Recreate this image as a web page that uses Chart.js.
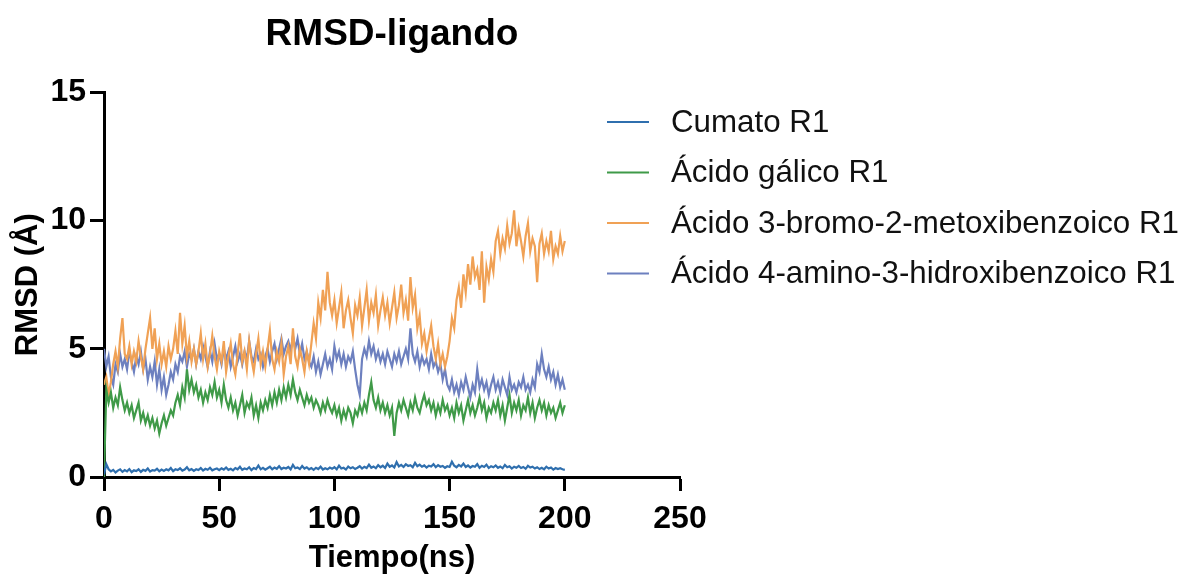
<!DOCTYPE html>
<html>
<head>
<meta charset="utf-8">
<script src="https://cdn.jsdelivr.net/npm/chart.js@4.4.1/dist/chart.umd.min.js"></script>
<style>
    html, body { margin: 0; padding: 0; background: #ffffff; }
</style>
</head>
<body>
<canvas id="rmsd-canvas" width="1180" height="577"></canvas>
<script>
// sampling interval of the trajectories (ns)
const timeStep = 1;

const seriesLabels = [
    'Cumato R1',
    'Ácido gálico R1',
    'Ácido 3-bromo-2-metoxibenzoico R1',
    'Ácido 4-amino-3-hidroxibenzoico R1'
];
const seriesColors = ['#2f6fae', '#3f9a48', '#f0a155', '#6d80bf'];

const xTicks = [0, 50, 100, 150, 200, 250];
const yTicks = [0, 5, 10, 15];

// RMSD (Å), one value per ns
const cumato = [
    0.1, 0.5, 0.3, 0.22, 0.28, 0.18, 0.25, 0.3, 0.2, 0.27,
    0.22, 0.31, 0.19, 0.26, 0.23, 0.3, 0.2, 0.28, 0.24, 0.33,
    0.21, 0.27, 0.25, 0.32, 0.22, 0.29, 0.24, 0.3, 0.26, 0.35,
    0.23, 0.3, 0.27, 0.34, 0.25, 0.29, 0.38, 0.26, 0.31, 0.24,
    0.3, 0.27, 0.35, 0.25, 0.32, 0.28, 0.36, 0.26, 0.3, 0.33,
    0.27, 0.34, 0.29, 0.37, 0.28, 0.32, 0.26, 0.35, 0.3, 0.4,
    0.28, 0.33, 0.3, 0.38, 0.27, 0.35, 0.31, 0.45, 0.3, 0.36,
    0.29, 0.34, 0.4, 0.3, 0.37, 0.32, 0.42, 0.31, 0.36, 0.33,
    0.39, 0.3, 0.47, 0.34, 0.37, 0.31, 0.43, 0.33, 0.38, 0.3,
    0.35, 0.28, 0.36, 0.31, 0.4, 0.29, 0.34, 0.3, 0.37, 0.32,
    0.38, 0.3, 0.44, 0.33, 0.36, 0.29, 0.41, 0.34, 0.38, 0.31,
    0.36, 0.42, 0.33, 0.4, 0.35, 0.48, 0.36, 0.41, 0.34, 0.46,
    0.38, 0.44, 0.35, 0.52, 0.4, 0.45, 0.37, 0.58, 0.41, 0.47,
    0.39, 0.5, 0.43, 0.46, 0.38, 0.55, 0.42, 0.48, 0.4, 0.45,
    0.37, 0.44, 0.41, 0.5, 0.38, 0.46, 0.4, 0.43, 0.36, 0.42,
    0.39, 0.6, 0.44, 0.38, 0.47, 0.41, 0.52, 0.39, 0.45, 0.37,
    0.43, 0.4, 0.5, 0.36, 0.44, 0.39, 0.48, 0.35, 0.42, 0.38,
    0.45, 0.36, 0.41, 0.34, 0.47, 0.38, 0.42, 0.33, 0.4, 0.36,
    0.43, 0.35, 0.39, 0.32, 0.44, 0.37, 0.4, 0.33, 0.38, 0.31,
    0.36, 0.3, 0.4, 0.33, 0.37, 0.29, 0.35, 0.31, 0.34, 0.3,
    0.28
];

const acidoGalico = [
    0.0, 3.4, 2.9, 3.3, 2.7, 3.1, 2.8, 3.5, 3.0, 2.6,
    2.9, 2.5, 2.8, 2.3, 2.6, 2.9, 2.2, 2.5, 2.1, 2.4,
    2.0, 2.3, 1.9, 2.2, 1.7, 2.1, 2.4, 2.0, 2.3, 2.6,
    2.4, 2.9, 3.2, 2.8, 3.5, 3.1, 4.2, 3.4, 3.8, 3.3,
    3.6, 3.1, 3.4, 2.9, 3.3, 3.0, 3.5, 3.2, 3.7, 3.1,
    3.4, 2.9, 3.6, 3.0, 2.7, 3.1, 2.6, 2.9, 2.4, 2.8,
    3.2, 2.5, 2.9, 2.7, 3.1, 2.4, 2.8, 2.3, 2.9, 2.6,
    3.0, 2.7, 3.2, 2.8, 3.3, 2.9, 3.4, 3.0, 3.5, 3.1,
    3.6, 3.2, 3.8, 3.3, 3.0, 3.4, 3.1, 2.8, 3.2, 2.9,
    3.1, 2.7, 3.0, 2.8, 2.5, 2.9, 2.6, 3.0, 2.7, 2.5,
    2.8, 2.4, 2.7, 2.2, 2.6, 2.3, 2.7, 2.5, 2.1, 2.6,
    2.4, 2.8, 2.5, 2.9, 2.6, 3.2, 3.7, 3.0, 2.7, 3.1,
    2.6, 2.9, 2.5, 2.8, 2.4, 2.7, 1.6, 2.5, 2.9, 2.6,
    3.0, 2.7, 2.4, 2.9, 2.6, 3.1, 2.7, 2.5, 2.9, 3.2,
    2.8, 3.0, 2.6, 2.9, 2.4, 2.8, 2.5, 3.0, 2.6, 2.8,
    2.4, 2.7, 2.3, 2.9, 2.5, 2.8, 2.2, 2.6, 3.0, 2.5,
    2.8, 2.4, 2.7, 3.1, 2.6, 2.9, 2.3, 2.7, 2.5, 2.9,
    2.6, 3.0, 2.4, 2.8, 2.2, 2.7, 3.2, 2.5, 2.9, 2.6,
    3.0, 2.4, 2.8, 2.6, 3.1, 2.5, 2.9, 2.3, 2.7, 3.0,
    2.6, 2.9, 2.4, 2.8, 2.5, 2.7, 2.3, 2.6, 2.9, 2.5,
    2.8
];

const acidoBromo = [
    3.6, 3.9, 3.2, 3.7, 4.4, 4.9, 4.3, 5.4, 6.2, 4.8,
    4.6, 5.1, 4.4, 4.9, 4.5, 5.3, 4.7, 4.2, 5.0, 5.6,
    6.2, 5.0, 5.8, 4.6, 5.2, 4.4, 4.9, 4.3, 5.1, 4.6,
    5.0, 5.7, 4.8, 6.4, 5.2, 5.9, 4.7, 5.3, 4.5, 5.0,
    4.4, 4.9, 5.6, 4.6, 5.2, 4.3, 4.8, 5.5, 4.7, 4.2,
    4.9, 4.5, 5.3, 4.1, 4.7, 5.2, 4.4, 4.0, 4.8, 5.6,
    4.5, 4.9, 4.2, 5.3, 4.6, 4.1, 4.8, 5.4, 4.4, 4.9,
    4.3, 5.0, 5.7, 4.6, 4.2, 4.9, 4.5, 5.2, 4.0, 4.7,
    5.1, 4.4, 5.8, 4.7, 4.3, 5.0, 4.6, 4.1, 4.9, 4.4,
    5.2, 6.0, 5.4, 6.8, 6.2, 7.3, 6.5, 8.0, 6.8, 6.3,
    6.9, 6.0, 6.6, 7.2, 5.8, 6.5, 6.9, 6.2, 5.6, 6.7,
    6.3, 7.0, 5.9, 6.6, 7.3, 6.1, 6.8, 6.4, 7.1, 5.9,
    6.5, 7.0, 6.3, 6.8, 6.0, 6.6, 7.2, 6.2, 6.7, 7.5,
    6.4, 6.9, 6.1, 7.8, 6.6, 7.1, 5.8, 6.3, 5.2, 5.6,
    4.9, 5.4, 5.9, 5.1, 4.6, 5.2, 4.4, 4.8, 4.3, 4.7,
    5.3, 6.2, 5.8, 6.9, 7.4, 6.6, 7.9, 7.2, 8.3, 7.5,
    8.6, 7.8, 8.1, 7.3, 8.8, 6.8, 8.2, 7.7, 8.5, 8.0,
    9.2, 9.6, 8.7, 9.3, 8.9, 9.8, 9.1, 9.5, 10.4, 9.0,
    9.7, 9.2, 8.6, 9.4, 9.9, 8.8, 9.3, 9.0, 7.6, 9.1,
    9.5, 8.7, 9.2, 8.8, 9.6, 8.5, 9.0, 8.7, 9.4, 8.8,
    9.2
];

const acidoAmino = [
    5.0, 4.3, 4.7, 3.9, 3.6, 4.4, 4.1, 4.8, 4.3, 4.6,
    4.2, 4.9, 4.5, 4.1, 4.7, 4.4, 4.9, 4.2, 4.6, 3.8,
    4.3, 3.9, 4.5, 3.6, 4.2, 3.4, 3.9, 3.2, 3.6, 4.1,
    3.8, 4.4, 4.1, 4.7, 4.5, 4.9, 4.3, 4.8, 4.6, 5.0,
    4.4, 4.9, 4.6, 5.1, 4.7, 4.3, 4.9, 4.5, 5.2, 4.6,
    4.8, 4.4, 5.0, 4.6, 4.9, 4.3, 4.7, 5.1, 4.5, 4.8,
    4.4, 4.9, 4.6, 5.3, 4.7, 4.5, 5.0, 4.6, 4.8, 4.3,
    4.7, 5.0, 4.5, 4.9, 5.2, 4.6, 5.0, 5.4, 4.8, 5.1,
    5.3, 4.9, 5.5, 5.0, 5.4, 4.8, 5.2, 4.6, 4.9, 4.5,
    4.3, 4.7, 4.1, 4.5, 4.0, 4.4, 4.8, 4.3, 4.6, 4.2,
    5.1, 4.6, 4.9, 4.4, 4.8, 4.3, 4.7, 4.5, 4.9, 4.2,
    3.6, 3.2, 4.6, 5.0, 4.7, 5.3, 4.8, 5.1, 4.6, 4.9,
    4.5, 4.8, 4.4, 4.9, 4.6, 4.3, 4.8, 4.5, 4.9, 4.4,
    4.7, 5.0, 4.6, 5.8, 4.8, 4.5, 4.9, 4.3, 4.7, 4.4,
    4.6, 4.2, 4.8, 4.3, 4.5, 4.1, 4.4, 3.8, 4.2, 3.6,
    3.4, 3.8, 3.3, 3.6, 3.2, 3.7, 3.4, 3.9, 3.5, 3.1,
    3.6, 3.3, 4.2, 3.5, 3.8, 3.4, 3.7, 3.2, 3.6, 3.9,
    3.4, 3.7, 3.3, 3.8, 3.5, 3.2, 3.9, 3.4, 3.6, 3.3,
    3.7, 3.5, 3.9, 3.4, 3.6, 3.3, 3.8, 3.5, 4.4, 4.1,
    4.8, 4.2, 3.9, 4.3, 3.8, 4.1, 3.6, 4.0, 3.5, 3.8,
    3.4
];

const seriesValues = [cumato, acidoGalico, acidoBromo, acidoAmino];

const fontFamily = '"Liberation Sans", Arial, Helvetica, sans-serif';

function toPoints(values) {
    return values.map((v, i) => ({ x: i * timeStep, y: v }));
}

// draws the legend to the right of the plot, like the original figure
const sideLegend = {
    id: 'sideLegend',
    afterDraw(chart) {
        const ctx = chart.ctx;
        ctx.save();
        ctx.font = '31.3px ' + fontFamily;
        ctx.textBaseline = 'middle';
        ctx.textAlign = 'left';
        chart.data.datasets.forEach((ds, i) => {
            const y = 122 + i * 50.5;
            ctx.strokeStyle = ds.borderColor;
            ctx.lineWidth = 2;
            ctx.beginPath();
            ctx.moveTo(607, y);
            ctx.lineTo(649, y);
            ctx.stroke();
            ctx.fillStyle = '#111111';
            ctx.fillText(ds.label, 671, y + 1);
        });
        ctx.restore();
    }
};

const datasets = seriesLabels.map((label, i) => ({
    label: label,
    data: toPoints(seriesValues[i]),
    borderColor: seriesColors[i],
    backgroundColor: seriesColors[i],
    borderWidth: 2.2,
    pointRadius: 0,
    tension: 0
}));

new Chart(document.getElementById('rmsd-canvas'), {
    type: 'line',
    data: { datasets: datasets },
    plugins: [sideLegend],
    options: {
        responsive: false,
        animation: false,
        layout: { padding: { left: 0, right: 500, top: 0, bottom: 0 } },
        plugins: {
            legend: { display: false },
            tooltip: { enabled: false },
            title: {
                display: true,
                text: 'RMSD-ligando',
                color: '#000000',
                fullSize: false,
                font: { family: fontFamily, size: 37, weight: 'bold' },
                padding: { top: 13, bottom: 35 }
            }
        },
        scales: {
            x: {
                type: 'linear',
                min: 0,
                max: 250,
                afterBuildTicks: (scale) => { scale.ticks = xTicks.map(v => ({ value: v })); },
                afterFit: (scale) => { scale.height = 100; },
                ticks: {
                    color: '#000000',
                    padding: 9,
                    font: { family: fontFamily, size: 32, weight: 'bold' }
                },
                grid: { drawOnChartArea: false, tickLength: 14, tickWidth: 3, color: '#000000' },
                border: { width: 3, color: '#000000' },
                title: {
                    display: true,
                    text: 'Tiempo(ns)',
                    color: '#000000',
                    font: { family: fontFamily, size: 31, weight: 'bold' },
                    padding: { top: 0, bottom: 0 }
                }
            },
            y: {
                min: 0,
                max: 15,
                afterBuildTicks: (scale) => { scale.ticks = yTicks.map(v => ({ value: v })); },
                afterFit: (scale) => { scale.width = 104; },
                ticks: {
                    color: '#000000',
                    padding: 4,
                    font: { family: fontFamily, size: 32, weight: 'bold' }
                },
                grid: { drawOnChartArea: false, tickLength: 14, tickWidth: 3, color: '#000000' },
                border: { width: 3, color: '#000000' },
                title: {
                    display: true,
                    text: 'RMSD (Å)',
                    color: '#000000',
                    font: { family: fontFamily, size: 31, weight: 'bold' },
                    padding: { top: 10, bottom: 0 }
                }
            }
        }
    }
});
</script>
</body>
</html>
